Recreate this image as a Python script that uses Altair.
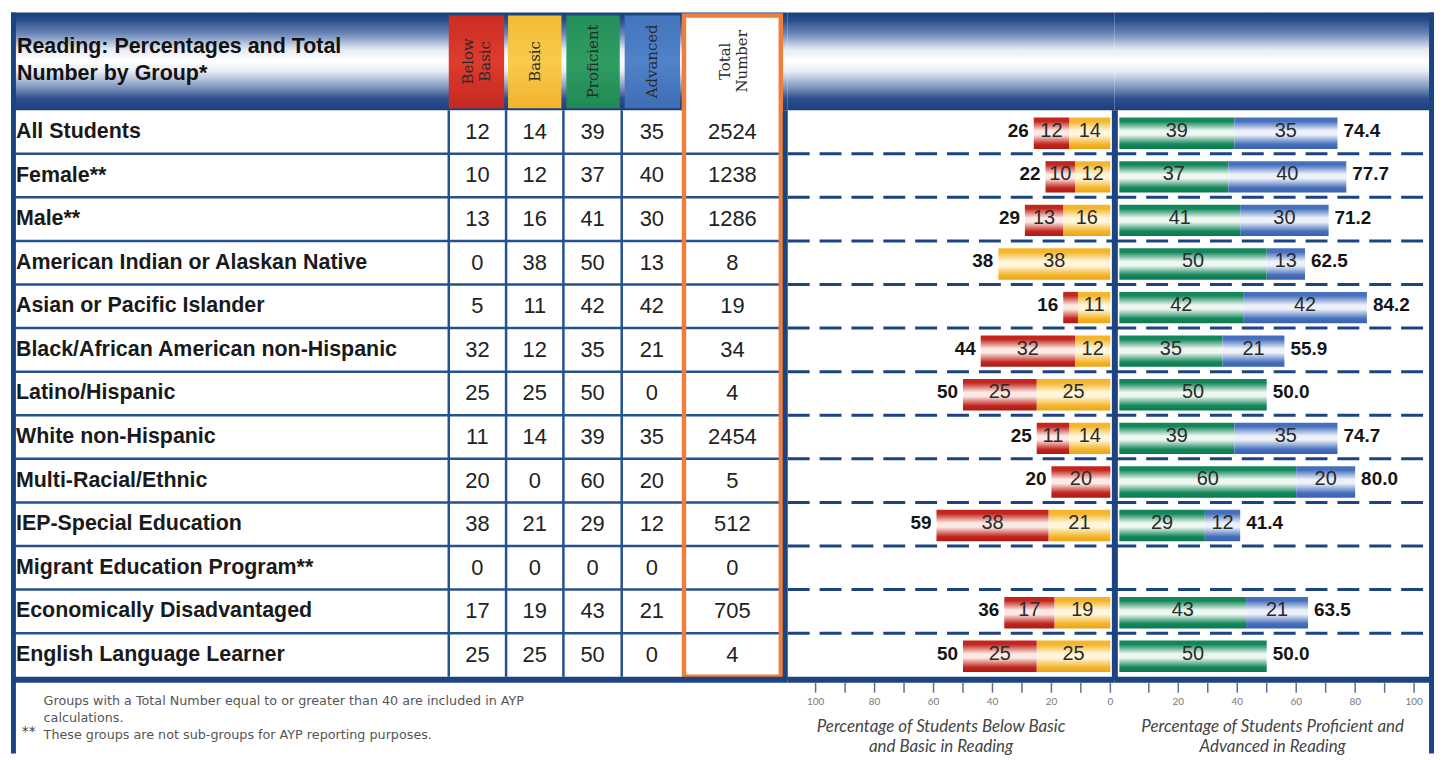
import altair as alt
import pandas as pd

# ---------------- data ----------------
GROUPS = [
    "All Students", "Female**", "Male**", "American Indian or Alaskan Native",
    "Asian or Pacific Islander", "Black/African American non-Hispanic",
    "Latino/Hispanic", "White non-Hispanic", "Multi-Racial/Ethnic",
    "IEP-Special Education", "Migrant Education Program**",
    "Economically Disadvantaged", "English Language Learner",
]
BELOW_BASIC = [12, 10, 13, 0, 5, 32, 25, 11, 20, 38, 0, 17, 25]
BASIC = [14, 12, 16, 38, 11, 12, 25, 14, 0, 21, 0, 19, 25]
PROFICIENT = [39, 37, 41, 50, 42, 35, 50, 39, 60, 29, 0, 43, 50]
ADVANCED = [35, 40, 30, 13, 42, 21, 0, 35, 20, 12, 0, 21, 0]
TOTAL_NUMBER = [2524, 1238, 1286, 8, 19, 34, 4, 2454, 5, 512, 0, 705, 4]
PROF_ADV_PERCENT = [74.4, 77.7, 71.2, 62.5, 84.2, 55.9, 50.0, 74.7, 80.0, 41.4, 0.0, 63.5, 50.0]

COLUMN_HEADERS = [["Below", "Basic"], ["Basic"], ["Proficient"], ["Advanced"], ["Total", "Number"]]
TABLE_TITLE = ["Reading: Percentages and Total", "Number by Group*"]
FOOTNOTE_1 = "Groups with a Total Number equal to or greater than 40 are included in AYP"
FOOTNOTE_2 = "calculations."
FOOTNOTE_MARK = "**"
FOOTNOTE_3 = "These groups are not sub-groups for AYP reporting purposes."
LEFT_TICKS = [0, 10, 20, 30, 40, 50, 60, 70, 80, 90, 100]
RIGHT_TICKS = [10, 20, 30, 40, 50, 60, 70, 80, 90, 100]
LEFT_AXIS_TITLE = ["Percentage of Students Below Basic", "and Basic in Reading"]
RIGHT_AXIS_TITLE = ["Percentage of Students Proficient and", "Advanced in Reading"]

df = pd.DataFrame({
    "group": GROUPS, "bb": BELOW_BASIC, "basic": BASIC, "prof": PROFICIENT,
    "adv": ADVANCED, "n": TOTAL_NUMBER, "pct": PROF_ADV_PERCENT,
    "row": list(range(len(GROUPS))),
})
one = pd.DataFrame({"k": [0]})
bounds = pd.DataFrame({"b": list(range(1, len(GROUPS)))})
ticks_left = pd.DataFrame({"t": LEFT_TICKS})
ticks_right = pd.DataFrame({"t": RIGHT_TICKS})

# ---------------- layout ----------------
W_T, W_L, W_R = 780, 328, 321
ROW_PX = 43.77
NROW = len(GROUPS)
PAGE_TOP, AXIS_Y, PAGE_BOT = 8, 681, 752
H = AXIS_Y - PAGE_TOP
PX_PER_PCT = 2.96


def u(py):
    return (py - 106) / ROW_PX


U_TOP = u(PAGE_TOP)
U_AX = u(AXIS_Y)
U_BOT = u(PAGE_BOT)

NAVY = "#1c4483"
LINE = "#24518f"
ORANGE = "#ef7d3c"
FONT = "Liberation Sans"
TXT = "#1a1a1a"

YS = alt.Scale(domain=[U_TOP, U_AX], reverse=True, nice=False, zero=False)
XT = alt.Scale(domain=[4, 790], nice=False, zero=False)
XL = alt.Scale(domain=[-1.35, -1.35 + W_L / PX_PER_PCT], reverse=True, nice=False, zero=False)
XR = alt.Scale(domain=[-1.69, -1.69 + W_R / PX_PER_PCT], nice=False, zero=False)


def grad(stops):
    return alt.Gradient(gradient="linear",
                        stops=[alt.GradientStop(color=c, offset=o) for o, c in stops],
                        x1=0, x2=0, y1=0, y2=1)


def tube(c, light, dark):
    return grad([(0, c), (0.12, c), (0.42, light), (0.55, light), (0.85, c), (1, dark)])


HEADER_GRAD = grad([(0, "#1b3e7d"), (0.08, "#2a4e8c"), (0.22, "#6d88b8"), (0.38, "#e6ebf3"),
                    (0.5, "#ffffff"), (0.6, "#e9edf4"), (0.75, "#8a9fc4"), (0.88, "#2e5090"),
                    (1, "#1b3e7d")])
G_RED = tube("#c3261e", "#fbe9e4", "#a81c15")
G_YEL = tube("#f4b62c", "#fff6dc", "#e9a41a")
G_GRN = tube("#13875a", "#eef7f1", "#0b7a4e")
G_BLU = tube("#4670bd", "#edf1f9", "#3a62ad")
BOX_FILLS = [
    grad([(0, "#cc2d23"), (0.5, "#de3c2f"), (1, "#c4291f")]),
    grad([(0, "#f5bb35"), (0.5, "#f9ca4c"), (1, "#f2b42c")]),
    grad([(0, "#24905a"), (0.5, "#2f9d62"), (1, "#208a55")]),
    grad([(0, "#4474bd"), (0.5, "#5083c9"), (1, "#3f6db6")]),
]
BOX_X = [(447, 503), (507, 561), (566, 620), (625, 681)]
HEAD_XC = [475, 534, 593, 653, 735]
HEAD_LH = 17
NUM_XC = [476, 534, 592.5, 652.5, 734]
COL_EDGES = [447, 505, 563, 622]


def yd(v):
    return alt.YDatum(v, scale=YS, axis=None)


def yf(f):
    return alt.Y(f, type="quantitative", scale=YS, axis=None)


def xd(v, sc):
    return alt.XDatum(v, scale=sc, axis=None)


def header_band(width):
    return alt.Chart(one).mark_rect(fill=HEADER_GRAD).encode(
        x=alt.value(0), x2=alt.value(width), y=yd(U_TOP), y2=alt.Y2Datum(0))


def bottom_line(width):
    return alt.Chart(one).mark_rule(color=NAVY, strokeWidth=6).encode(
        x=alt.value(0), x2=alt.value(width), y=yd(NROW + 0.07))


def dashed(width):
    return alt.Chart(bounds).mark_rule(color=NAVY, strokeWidth=3, strokeDash=[22, 10]).encode(
        x=alt.value(0), x2=alt.value(width), y=yf("b"))


def axis_layers(ticks, scale, title, title_x):
    return [
        alt.Chart(ticks).mark_rule(color="#5a7096", strokeWidth=1.5).encode(
            x=alt.X("t:Q", scale=scale, axis=None), y=yd(U_AX), y2=alt.Y2Datum(u(691))),
        alt.Chart(ticks).transform_filter("datum.t % 20 === 0").mark_text(
            font="Lato", fontSize=10, color="#7a7a7a", baseline="middle", align="center"
        ).encode(x=alt.X("t:Q", scale=scale, axis=None), y=yd(u(700)), text="t:N"),
        alt.Chart(one).mark_text(
            text=title, font="Lato", fontSize=17, fontStyle="italic", color="#444",
            lineHeight=21, baseline="middle", align="center"
        ).encode(x=alt.value(title_x), y=yd(u(725))),
    ]


# ---------------- table panel ----------------
t_layers = [header_band(W_T)]
for (x0, x1), g in zip(BOX_X, BOX_FILLS):
    t_layers.append(alt.Chart(one).mark_rect(fill=g).encode(
        x=xd(x0, XT), x2=alt.X2Datum(x1), y=yd(u(11)), y2=alt.Y2Datum(u(104))))
t_layers.append(alt.Chart(one).mark_rect(fill="white").encode(
    x=xd(685, XT), x2=alt.X2Datum(783), y=yd(u(11)), y2=alt.Y2Datum(NROW)))
t_layers.append(alt.Chart(bounds).mark_rule(color=LINE, strokeWidth=2.5).encode(
    x=xd(4, XT), x2=alt.X2Datum(787), y=yf("b")))
for xe in COL_EDGES:
    t_layers.append(alt.Chart(one).mark_rule(color=LINE, strokeWidth=2.5).encode(
        x=xd(xe, XT), y=yd(0), y2=alt.Y2Datum(NROW)))
t_layers.append(alt.Chart(one).mark_rect(fillOpacity=0, stroke=ORANGE, strokeWidth=4.5).encode(
    x=xd(685, XT), x2=alt.X2Datum(783), y=yd(u(11)), y2=alt.Y2Datum(NROW)))
t_layers.append(bottom_line(W_T))
t_layers.append(alt.Chart(one).mark_rect(fill=NAVY).encode(
    x=xd(4, XT), x2=alt.X2Datum(9), y=yd(U_TOP), y2=alt.Y2Datum(U_BOT)))
t_layers.append(alt.Chart(one).mark_rule(color=NAVY, strokeWidth=5).encode(
    x=xd(787.5, XT), y=yd(0), y2=alt.Y2Datum(NROW + 0.07)))
# texts
t_layers.append(alt.Chart(one).mark_text(
    text=TABLE_TITLE, align="left", baseline="middle", font=FONT, fontSize=21.5,
    fontWeight="bold", lineHeight=27, color="#111").encode(x=xd(10, XT), y=yd(u(43))))
for lab, xc in zip(COLUMN_HEADERS, HEAD_XC):
    xa = xc - (len(lab) - 1) * HEAD_LH / 2
    t_layers.append(alt.Chart(one).mark_text(
        text=lab, angle=270, align="center", baseline="middle", font="DejaVu Serif",
        fontSize=15, lineHeight=HEAD_LH, color="#2a2a2a").encode(x=xd(xa, XT), y=yd(u(57))))
t_layers.append(alt.Chart(df).transform_calculate(yc="datum.row + 0.5").mark_text(
    align="left", baseline="middle", font=FONT, fontSize=21.5, fontWeight="bold", color=TXT
).encode(x=xd(9, XT), y=yf("yc"), text="group:N"))
for field, xc in zip(["bb", "basic", "prof", "adv", "n"], NUM_XC):
    t_layers.append(alt.Chart(df).transform_calculate(yc="datum.row + 0.5").mark_text(
        align="center", baseline="middle", font=FONT, fontSize=22, color="#222"
    ).encode(x=xd(xc, XT), y=yf("yc"), text=alt.Text(f"{field}:N")))
FOOT = dict(align="left", baseline="middle", font="DejaVu Sans", fontSize=12.8, color="#555")
t_layers.append(alt.Chart(one).mark_text(text=FOOTNOTE_1, **FOOT).encode(
    x=xd(37, XT), y=yd(u(699))))
t_layers.append(alt.Chart(one).mark_text(text=FOOTNOTE_2, **FOOT).encode(
    x=xd(37, XT), y=yd(u(716))))
t_layers.append(alt.Chart(one).mark_text(
    text=FOOTNOTE_MARK, align="left", baseline="middle", font="DejaVu Sans", fontSize=14,
    color="#444").encode(x=xd(15, XT), y=yd(u(730))))
t_layers.append(alt.Chart(one).mark_text(text=FOOTNOTE_3, **FOOT).encode(
    x=xd(37, XT), y=yd(u(733))))
table = alt.layer(*t_layers).properties(width=W_T, height=H)

# ---------------- bar panels ----------------
base = alt.Chart(df).transform_calculate(
    zero="0", top="datum.row + 0.17", bot="datum.row + 0.89", yt="datum.row + 0.47",
    low="datum.bb + datum.basic", mid_basic="datum.basic / 2",
    mid_bb="datum.basic + datum.bb / 2", high="datum.prof + datum.adv",
    mid_prof="datum.prof / 2", mid_adv="datum.prof + datum.adv / 2")

SEG_TXT = dict(align="center", baseline="middle", font=FONT, fontSize=20, color="#2a2a2a")
TOT_TXT = dict(baseline="middle", font=FONT, fontSize=19, fontWeight="bold", color="#151515")

l_layers = [
    header_band(W_L),
    dashed(W_L),
    base.transform_filter("datum.basic > 0").mark_rect(fill=G_YEL).encode(
        x=alt.X("zero:Q", scale=XL, axis=None), x2="basic:Q", y=yf("top"), y2="bot:Q"),
    base.transform_filter("datum.bb > 0").mark_rect(fill=G_RED).encode(
        x=alt.X("basic:Q", scale=XL, axis=None), x2="low:Q", y=yf("top"), y2="bot:Q"),
    base.transform_filter("datum.basic >= 8").mark_text(**SEG_TXT).encode(
        x=alt.X("mid_basic:Q", scale=XL, axis=None), y=yf("yt"), text="basic:N"),
    base.transform_filter("datum.bb >= 8").mark_text(**SEG_TXT).encode(
        x=alt.X("mid_bb:Q", scale=XL, axis=None), y=yf("yt"), text="bb:N"),
    base.transform_filter("datum.low > 0").mark_text(align="right", dx=-5, **TOT_TXT).encode(
        x=alt.X("low:Q", scale=XL, axis=None), y=yf("yt"), text="low:N"),
    bottom_line(W_L),
] + axis_layers(ticks_left, XL, LEFT_AXIS_TITLE, 154)
left = alt.layer(*l_layers).properties(width=W_L, height=H)

r_layers = [
    header_band(W_R),
    dashed(W_R),
    base.transform_filter("datum.prof > 0").mark_rect(fill=G_GRN).encode(
        x=alt.X("zero:Q", scale=XR, axis=None), x2="prof:Q", y=yf("top"), y2="bot:Q"),
    base.transform_filter("datum.adv > 0").mark_rect(fill=G_BLU).encode(
        x=alt.X("prof:Q", scale=XR, axis=None), x2="high:Q", y=yf("top"), y2="bot:Q"),
    base.transform_filter("datum.prof >= 8").mark_text(**SEG_TXT).encode(
        x=alt.X("mid_prof:Q", scale=XR, axis=None), y=yf("yt"), text="prof:N"),
    base.transform_filter("datum.adv >= 8").mark_text(**SEG_TXT).encode(
        x=alt.X("mid_adv:Q", scale=XR, axis=None), y=yf("yt"), text="adv:N"),
    base.transform_filter("datum.pct > 0").mark_text(align="left", dx=6, **TOT_TXT).encode(
        x=alt.X("high:Q", scale=XR, axis=None), y=yf("yt"),
        text=alt.Text("pct:Q", format=".1f")),
    alt.Chart(one).mark_rule(color=NAVY, strokeWidth=6).encode(
        x=xd(-1.52, XR), y=yd(0), y2=alt.Y2Datum(NROW + 0.07)),
    bottom_line(W_R),
    alt.Chart(one).mark_rule(color=NAVY, strokeWidth=5).encode(
        x=alt.value(W_R - 2.5), y=yd(U_TOP), y2=alt.Y2Datum(U_BOT)),
] + axis_layers(ticks_right, XR, RIGHT_AXIS_TITLE, 159)
right = alt.layer(*r_layers).properties(width=W_R, height=H)

chart = alt.hconcat(table, left, right, spacing=0, bounds="flush", padding=0,
                    background="white").configure_view(strokeWidth=0)

chart.save("out.html", embed_options={"renderer": "svg", "actions": False})
